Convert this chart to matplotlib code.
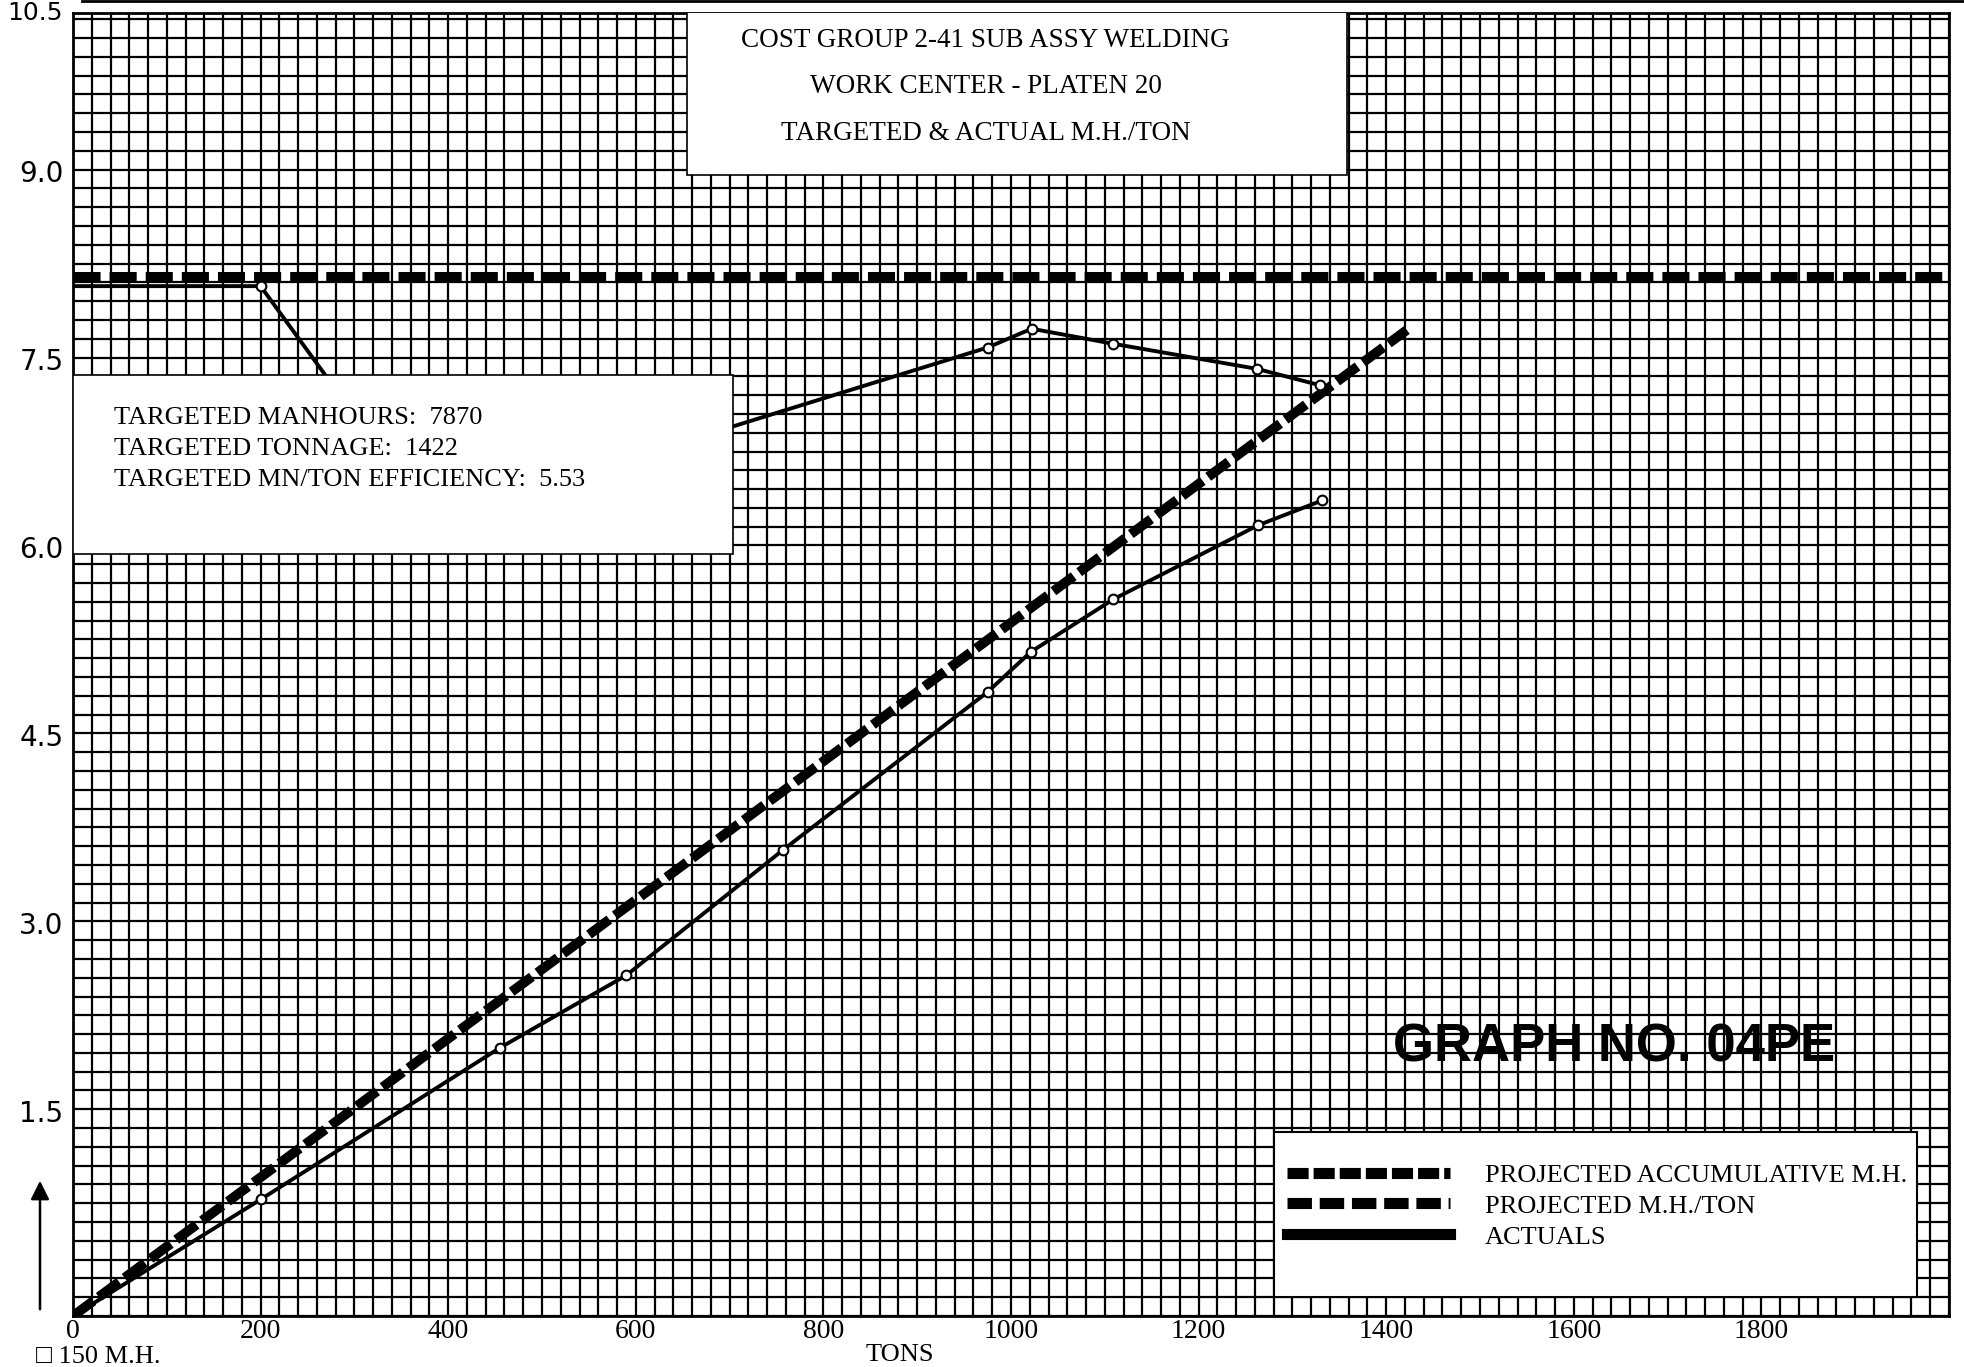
import matplotlib
matplotlib.use("Agg")
import matplotlib.pyplot as plt
import matplotlib.transforms as mtransforms
from matplotlib.lines import Line2D
from matplotlib.patches import Rectangle
from matplotlib.ticker import MultipleLocator

# values
# y is M.H./TON for the rate lines and thousands of M.H. for the accumulative lines
proj_accum_tons = [0, 1422]
proj_accum_mh = [0, 7.87]

proj_rate_tons = [0, 2000]
proj_rate = [8.3, 8.3]

# part of this line is hidden behind the text box
actual_rate_tons = [0, 200, 300, 400, 600, 975, 1022, 1109, 1262, 1329]
actual_rate = [8.22, 8.22, 7.19, 6.75, 6.86, 7.73, 7.88, 7.76, 7.56, 7.43]

actual_accum_tons = [0, 200, 455, 590, 757, 975, 1021, 1109, 1263, 1332]
actual_accum_mh = [0, 0.93, 2.14, 2.72, 3.72, 4.98, 5.30, 5.72, 6.31, 6.51]

x_ticks = [0, 200, 400, 600, 800, 1000, 1200, 1400, 1600, 1800]
y_ticks = [1.5, 3.0, 4.5, 6.0, 7.5, 9.0]

title_lines = ["COST GROUP 2-41 SUB ASSY WELDING",
               "WORK CENTER - PLATEN 20",
               "TARGETED & ACTUAL M.H./TON"]
target_lines = ["TARGETED MANHOURS:  7870",
                "TARGETED TONNAGE:  1422",
                "TARGETED MN/TON EFFICIENCY:  5.53"]
legend_labels = ["PROJECTED ACCUMULATIVE M.H.", "PROJECTED M.H./TON", "ACTUALS"]

plt.rcParams['font.family'] = ['Liberation Serif', 'DejaVu Sans']

W, H = 1965, 1367
fig = plt.figure(figsize=(W / 100, H / 100), dpi=100)
ax = fig.add_axes([73 / W, 51 / H, 1876 / W, 1303 / H])
ax.set_xlim(0, 2000)
ax.set_ylim(0, 10.4)

# graph paper grid: 20 tons x 0.15 per square
ax.set_xticks(x_ticks)
ax.set_xticklabels([str(t) for t in x_ticks], fontsize=20)
ax.set_yticks(y_ticks)
ax.set_yticklabels([])
ax.xaxis.set_minor_locator(MultipleLocator(20))
ax.yaxis.set_minor_locator(MultipleLocator(0.15))
ax.tick_params(which='both', length=0)
ax.tick_params(axis='x', pad=2)
ax.set_axisbelow(True)
ax.grid(which='both', color='black', lw=1.6)
for s in ax.spines.values():
    s.set_linewidth(2)

# y labels sit just above their grid line
trans = mtransforms.blended_transform_factory(ax.transAxes, ax.transData)
for v in y_ticks:
    ax.text(-0.005, v, f"{v:.1f}", transform=trans, ha='right', va='bottom',
            fontsize=20, family='DejaVu Sans')
# top label (cut by the scan in the original), kept just inside the page
fig.text(63 / W, 1 - 1 / H, "10.5", ha='right', va='top', fontsize=18,
         family='DejaVu Sans')

# lines
ax.plot(proj_accum_tons, proj_accum_mh, color='black', lw=7,
        dashes=(2.6, 0.7), dash_capstyle='butt', zorder=2)
ax.plot(proj_rate_tons, proj_rate, color='black', lw=6.5,
        dashes=(3.0, 1.0), dash_capstyle='butt', zorder=2)
ax.plot(actual_rate_tons, actual_rate, color='black', lw=2.8, marker='o', ms=7,
        mfc='white', mec='black', mew=1.5, markevery=slice(1, None), zorder=2)
ax.plot(actual_accum_tons, actual_accum_mh, color='black', lw=2.8, marker='o', ms=7,
        mfc='white', mec='black', mew=1.5, markevery=slice(1, None), zorder=2)

# white pasted-on boxes
ax.add_patch(Rectangle((655, 9.11), 703, 1.5, fc='white', ec='black', lw=1.2, zorder=3))
ax.add_patch(Rectangle((0, 6.08), 704, 1.43, fc='white', ec='black', lw=1.2, zorder=3))
ax.add_patch(Rectangle((1280, 0.15), 686, 1.32, fc='white', ec='black', lw=1.5, zorder=3))

for i, line in enumerate(title_lines):
    ax.text(973, 10.18 - i * 0.37, line, ha='center', va='center', fontsize=19.5, zorder=4)
for i, line in enumerate(target_lines):
    ax.text(44, 7.17 - i * 0.25, line, ha='left', va='center', fontsize=19, zorder=4)

handles = [Line2D([], [], color='black', lw=8, dashes=(1.9, 0.45), dash_capstyle='butt'),
           Line2D([], [], color='black', lw=8, dashes=(2.2, 0.7), dash_capstyle='butt'),
           Line2D([], [], color='black', lw=8)]
leg = ax.legend(handles, legend_labels, loc='center left', bbox_to_anchor=(1294, 0.878),
                bbox_transform=ax.transData, frameon=False, fontsize=19,
                handlelength=6.2, handletextpad=1.3, labelspacing=0.28,
                borderpad=0, borderaxespad=0)
leg.set_zorder(5)

ax.text(1407, 2.14, "GRAPH NO. 04PE", ha='left', va='center', fontsize=38,
        family='Liberation Sans', weight='bold', zorder=4)

# paper edge and bottom notes
fig.add_artist(Line2D([82 / W, 1], [1 - 1 / H, 1 - 1 / H], transform=fig.transFigure,
                      color='black', lw=2))
ax.annotate('', xy=(40, H - 1178), xytext=(40, H - 1312), xycoords='figure pixels',
            textcoords='figure pixels',
            arrowprops=dict(arrowstyle='-|>', color='black', lw=1.8, mutation_scale=28))
fig.text(36 / W, 10 / H, "\u25a1 150 M.H.", fontsize=19, va='center', ha='left')
fig.text(900 / W, 12 / H, "TONS", fontsize=19, va='center', ha='center')

fig.savefig("out.png", dpi=100)
